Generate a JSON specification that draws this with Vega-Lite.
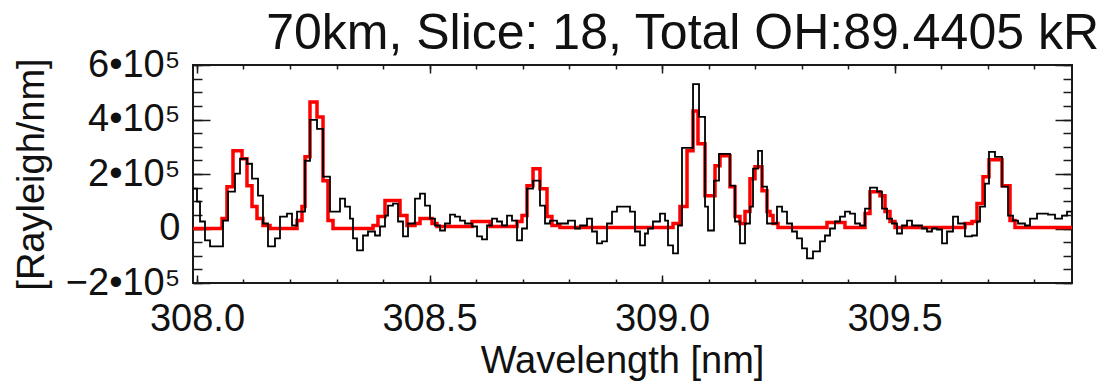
{
  "$schema": "https://vega.github.io/schema/vega-lite/v6.json",
  "width": 879,
  "height": 218,
  "autosize": "none",
  "padding": {"left": 193, "top": 65, "right": 30, "bottom": 103},
  "background": "white",
  "config": {
    "font": "Liberation Sans",
    "view": {"stroke": "#1a1a1a", "strokeWidth": 2},
    "axis": {"grid": false, "domain": false, "tickColor": "#1a1a1a", "tickWidth": 1.5, "labelColor": "#111", "titleColor": "#111", "labelFont": "Liberation Sans", "titleFont": "Liberation Sans", "labelFlush": false, "labelOverlap": false, "labelBound": false, "titleFontWeight": "normal"}
  },
  "title": {"text": "70km, Slice: 18, Total OH:89.4405 kR", "anchor": "end", "frame": "group", "fontSize": 50, "fontWeight": "normal", "font": "Liberation Sans", "color": "#111", "offset": 18, "baseline": "alphabetic", "dx": 27, "dy": 71},
  "datasets": {
    "black": [
      {"x": 307.9914, "y": 146000}, {"x": 308.0000, "y": 98700}, {"x": 308.0065, "y": 25600}, {"x": 308.0172, "y": -43900},
      {"x": 308.0280, "y": -65800}, {"x": 308.0559, "y": 29200}, {"x": 308.0667, "y": 135300}, {"x": 308.0817, "y": 201100},
      {"x": 308.0925, "y": 255900}, {"x": 308.1075, "y": 237600}, {"x": 308.1183, "y": 182800}, {"x": 308.1312, "y": 120600},
      {"x": 308.1419, "y": 18300}, {"x": 308.1527, "y": -65800}, {"x": 308.1677, "y": -36600}, {"x": 308.1785, "y": 43900},
      {"x": 308.1935, "y": 54800}, {"x": 308.2043, "y": 11000}, {"x": 308.2151, "y": 62200}, {"x": 308.2323, "y": 248600},
      {"x": 308.2430, "y": 398500}, {"x": 308.2581, "y": 365600}, {"x": 308.2710, "y": 190100}, {"x": 308.2860, "y": 62200},
      {"x": 308.3075, "y": 109700}, {"x": 308.3183, "y": 80400}, {"x": 308.3290, "y": 36600}, {"x": 308.3355, "y": -36600},
      {"x": 308.3441, "y": -80400}, {"x": 308.3570, "y": -25600}, {"x": 308.3677, "y": -11000}, {"x": 308.3828, "y": -25600},
      {"x": 308.3935, "y": 7300}, {"x": 308.4043, "y": 47500}, {"x": 308.4108, "y": 84100}, {"x": 308.4215, "y": 91400},
      {"x": 308.4323, "y": 25600}, {"x": 308.4430, "y": -29200}, {"x": 308.4538, "y": 18300}, {"x": 308.4688, "y": 109700},
      {"x": 308.4796, "y": 128000}, {"x": 308.4903, "y": 84100}, {"x": 308.5011, "y": 36600}, {"x": 308.5118, "y": 11000},
      {"x": 308.5226, "y": -7300}, {"x": 308.5333, "y": 18300}, {"x": 308.5441, "y": 51200}, {"x": 308.5548, "y": 43900},
      {"x": 308.5656, "y": 29200}, {"x": 308.5763, "y": 18300}, {"x": 308.5914, "y": 7300}, {"x": 308.6022, "y": -29200},
      {"x": 308.6129, "y": -40200}, {"x": 308.6237, "y": 11000}, {"x": 308.6344, "y": 36600}, {"x": 308.6452, "y": 25600},
      {"x": 308.6559, "y": 11000}, {"x": 308.6667, "y": 47500}, {"x": 308.6774, "y": 29200}, {"x": 308.6882, "y": -43900},
      {"x": 308.6989, "y": 0}, {"x": 308.7097, "y": 146200}, {"x": 308.7226, "y": 175500}, {"x": 308.7376, "y": 84100},
      {"x": 308.7484, "y": 18300}, {"x": 308.7591, "y": 29200}, {"x": 308.7742, "y": 18300}, {"x": 308.7978, "y": 29200},
      {"x": 308.8129, "y": 0}, {"x": 308.8237, "y": 11000}, {"x": 308.8387, "y": 36600}, {"x": 308.8495, "y": -11000},
      {"x": 308.8602, "y": -54800}, {"x": 308.8710, "y": -47500}, {"x": 308.8817, "y": 18300}, {"x": 308.8925, "y": 62200},
      {"x": 308.9032, "y": 80400}, {"x": 308.9312, "y": 62200}, {"x": 308.9419, "y": -11000}, {"x": 308.9527, "y": -62200},
      {"x": 308.9634, "y": -18300}, {"x": 308.9699, "y": 0}, {"x": 308.9806, "y": 25600}, {"x": 308.9957, "y": 54800},
      {"x": 309.0065, "y": 29200}, {"x": 309.0129, "y": -62200}, {"x": 309.0237, "y": -91400}, {"x": 309.0344, "y": 11000},
      {"x": 309.0430, "y": 296100}, {"x": 309.0667, "y": 530100}, {"x": 309.0796, "y": 409500}, {"x": 309.0925, "y": 80400},
      {"x": 309.0989, "y": -7300}, {"x": 309.1118, "y": 175500}, {"x": 309.1226, "y": 274200}, {"x": 309.1462, "y": 157200},
      {"x": 309.1570, "y": 25600}, {"x": 309.1677, "y": -54800}, {"x": 309.1785, "y": 18300}, {"x": 309.1892, "y": 80400},
      {"x": 309.1957, "y": 219400}, {"x": 309.2065, "y": 285200}, {"x": 309.2151, "y": 153600}, {"x": 309.2258, "y": 18300},
      {"x": 309.2473, "y": 80400}, {"x": 309.2581, "y": 62200}, {"x": 309.2688, "y": 18300}, {"x": 309.2796, "y": -11000},
      {"x": 309.2903, "y": -36600}, {"x": 309.3011, "y": -73100}, {"x": 309.3118, "y": -109700}, {"x": 309.3247, "y": -84100},
      {"x": 309.3398, "y": -47500}, {"x": 309.3505, "y": -25600}, {"x": 309.3613, "y": 0}, {"x": 309.3720, "y": 25600},
      {"x": 309.3828, "y": 43900}, {"x": 309.3935, "y": 62200}, {"x": 309.4043, "y": 54800}, {"x": 309.4151, "y": 18300},
      {"x": 309.4258, "y": 11000}, {"x": 309.4366, "y": 73100}, {"x": 309.4473, "y": 149900}, {"x": 309.4624, "y": 135300},
      {"x": 309.4731, "y": 73100}, {"x": 309.4839, "y": 36600}, {"x": 309.4946, "y": 18300}, {"x": 309.5054, "y": -18300},
      {"x": 309.5161, "y": 11000}, {"x": 309.5269, "y": 29200}, {"x": 309.5376, "y": 11000}, {"x": 309.5591, "y": 0},
      {"x": 309.5699, "y": -11000}, {"x": 309.5806, "y": 0}, {"x": 309.5914, "y": -3700}, {"x": 309.6022, "y": -54800},
      {"x": 309.6129, "y": -11000}, {"x": 309.6258, "y": 43900}, {"x": 309.6366, "y": 18300}, {"x": 309.6516, "y": -29200},
      {"x": 309.6667, "y": -25600}, {"x": 309.6774, "y": 25600}, {"x": 309.6839, "y": 80400}, {"x": 309.6946, "y": 164500},
      {"x": 309.7032, "y": 281500}, {"x": 309.7161, "y": 263200}, {"x": 309.7312, "y": 153600}, {"x": 309.7441, "y": 47500},
      {"x": 309.7548, "y": 29200}, {"x": 309.7656, "y": 18300}, {"x": 309.7806, "y": 11000}, {"x": 309.7914, "y": 36600},
      {"x": 309.8065, "y": 54800}, {"x": 309.8301, "y": 51200}, {"x": 309.8452, "y": 36600}, {"x": 309.8602, "y": 47500},
      {"x": 309.8710, "y": 62200}, {"x": 309.8817, "y": 62200}
    ],
    "red": [
      {"x": 307.9914, "y": 0}, {"x": 308.0538, "y": 36600}, {"x": 308.0645, "y": 153600}, {"x": 308.0774, "y": 285200},
      {"x": 308.0968, "y": 255900}, {"x": 308.1075, "y": 157200}, {"x": 308.1183, "y": 80400}, {"x": 308.1290, "y": 36600},
      {"x": 308.1419, "y": 11000}, {"x": 308.1570, "y": 0}, {"x": 308.2151, "y": 29200}, {"x": 308.2258, "y": 80400},
      {"x": 308.2323, "y": 263200}, {"x": 308.2430, "y": 464300}, {"x": 308.2581, "y": 409500}, {"x": 308.2710, "y": 175500},
      {"x": 308.2817, "y": 29200}, {"x": 308.2925, "y": 0}, {"x": 308.3785, "y": 11000}, {"x": 308.3892, "y": 43900},
      {"x": 308.4043, "y": 102400}, {"x": 308.4366, "y": 47500}, {"x": 308.4516, "y": 11000}, {"x": 308.4688, "y": 18300},
      {"x": 308.4796, "y": 36600}, {"x": 308.5054, "y": 18300}, {"x": 308.5161, "y": 7300}, {"x": 308.5914, "y": 25600},
      {"x": 308.6301, "y": 7300}, {"x": 308.6882, "y": 25600}, {"x": 308.6989, "y": 47500}, {"x": 308.7097, "y": 157200},
      {"x": 308.7226, "y": 219400}, {"x": 308.7376, "y": 146200}, {"x": 308.7527, "y": 43900}, {"x": 308.7634, "y": 11000},
      {"x": 308.7806, "y": 3700}, {"x": 309.0237, "y": 18300}, {"x": 309.0387, "y": 80400}, {"x": 309.0538, "y": 285200},
      {"x": 309.0667, "y": 431400}, {"x": 309.0774, "y": 310800}, {"x": 309.0925, "y": 120600}, {"x": 309.1140, "y": 230300},
      {"x": 309.1247, "y": 266900}, {"x": 309.1462, "y": 153600}, {"x": 309.1570, "y": 43900}, {"x": 309.1677, "y": 18300},
      {"x": 309.1785, "y": 62200}, {"x": 309.1892, "y": 182800}, {"x": 309.2000, "y": 226700}, {"x": 309.2151, "y": 138900},
      {"x": 309.2258, "y": 62200}, {"x": 309.2323, "y": 47500}, {"x": 309.2387, "y": 18300}, {"x": 309.2495, "y": 3700},
      {"x": 309.3548, "y": 21900}, {"x": 309.3935, "y": 3700}, {"x": 309.4366, "y": 54800}, {"x": 309.4473, "y": 135300},
      {"x": 309.4688, "y": 120600}, {"x": 309.4796, "y": 62200}, {"x": 309.4903, "y": 25600}, {"x": 309.5011, "y": 3700},
      {"x": 309.6516, "y": 18300}, {"x": 309.6667, "y": 25600}, {"x": 309.6774, "y": 91400}, {"x": 309.6903, "y": 190100},
      {"x": 309.7032, "y": 252300}, {"x": 309.7312, "y": 157200}, {"x": 309.7484, "y": 29200}, {"x": 309.7591, "y": 3700},
      {"x": 309.8817, "y": 3700}
    ]
  },
  "layer": [
    {
      "data": {"name": "red"},
      "mark": {"type": "line", "interpolate": "step-after", "color": "#ff0000", "strokeWidth": 3.5},
      "encoding": {
        "x": {"field": "x", "type": "quantitative", "scale": {"domain": [307.9914, 309.8817], "nice": false, "zero": false},
          "axis": {"orient": "bottom", "values": [308.0, 308.1, 308.2, 308.3, 308.4, 308.5, 308.6, 308.7, 308.8, 308.9, 309.0, 309.1, 309.2, 309.3, 309.4, 309.5, 309.6, 309.7, 309.8], "tickSize": -4, "labels": false, "title": null}},
        "y": {"field": "y", "type": "quantitative", "scale": {"domain": [-200000, 600000], "nice": false, "zero": false},
          "axis": {"orient": "left", "values": [-200000, -150000, -100000, -50000, 0, 50000, 100000, 150000, 200000, 250000, 300000, 350000, 400000, 450000, 500000, 550000, 600000], "tickSize": -9, "labels": false, "title": null}}
      }
    },
    {
      "data": {"name": "black"},
      "mark": {"type": "line", "interpolate": "step-after", "color": "#000000", "strokeWidth": 1.8},
      "encoding": {
        "x": {"field": "x", "type": "quantitative",
          "axis": {"orient": "bottom", "values": [308.0, 308.5, 309.0, 309.5], "format": ".1f", "tickSize": -8, "labelPadding": 25, "labelFontSize": 38, "title": "Wavelength [nm]", "titleFontSize": 38, "titleX": 429, "titleY": 89, "titleBaseline": "alphabetic"}},
        "y": {"field": "y", "type": "quantitative",
          "axis": {"orient": "left", "values": [-200000, 0, 200000, 400000, 600000], "tickSize": -17, "labelPadding": 30, "labelFontSize": 38,
            "labelExpr": "datum.value == 0 ? '0' : format(datum.value / 100000, 'd') + '•10⁵'",
            "title": "[Rayleigh/nm]", "titleFontSize": 38, "titleX": -150, "titleY": 109, "titleBaseline": "alphabetic", "titleAngle": 270}}
      }
    },
    {
      "data": {"name": "black"},
      "mark": {"type": "line", "opacity": 0},
      "encoding": {
        "x": {"field": "x", "type": "quantitative",
          "axis": {"orient": "top", "values": [308.0, 308.5, 309.0, 309.5], "tickSize": -8, "labels": false, "title": null}},
        "y": {"field": "y", "type": "quantitative",
          "axis": {"orient": "right", "values": [-200000, 0, 200000, 400000, 600000], "tickSize": -17, "labels": false, "title": null}}
      }
    },
    {
      "data": {"name": "black"},
      "mark": {"type": "line", "opacity": 0},
      "encoding": {
        "x": {"field": "x", "type": "quantitative",
          "axis": {"orient": "top", "values": [308.0, 308.1, 308.2, 308.3, 308.4, 308.5, 308.6, 308.7, 308.8, 308.9, 309.0, 309.1, 309.2, 309.3, 309.4, 309.5, 309.6, 309.7, 309.8], "tickSize": -4, "labels": false, "title": null}},
        "y": {"field": "y", "type": "quantitative",
          "axis": {"orient": "right", "values": [-200000, -150000, -100000, -50000, 0, 50000, 100000, 150000, 200000, 250000, 300000, 350000, 400000, 450000, 500000, 550000, 600000], "tickSize": -9, "labels": false, "title": null}}
      }
    }
  ],
  "resolve": {"axis": {"x": "independent", "y": "independent"}}
}
